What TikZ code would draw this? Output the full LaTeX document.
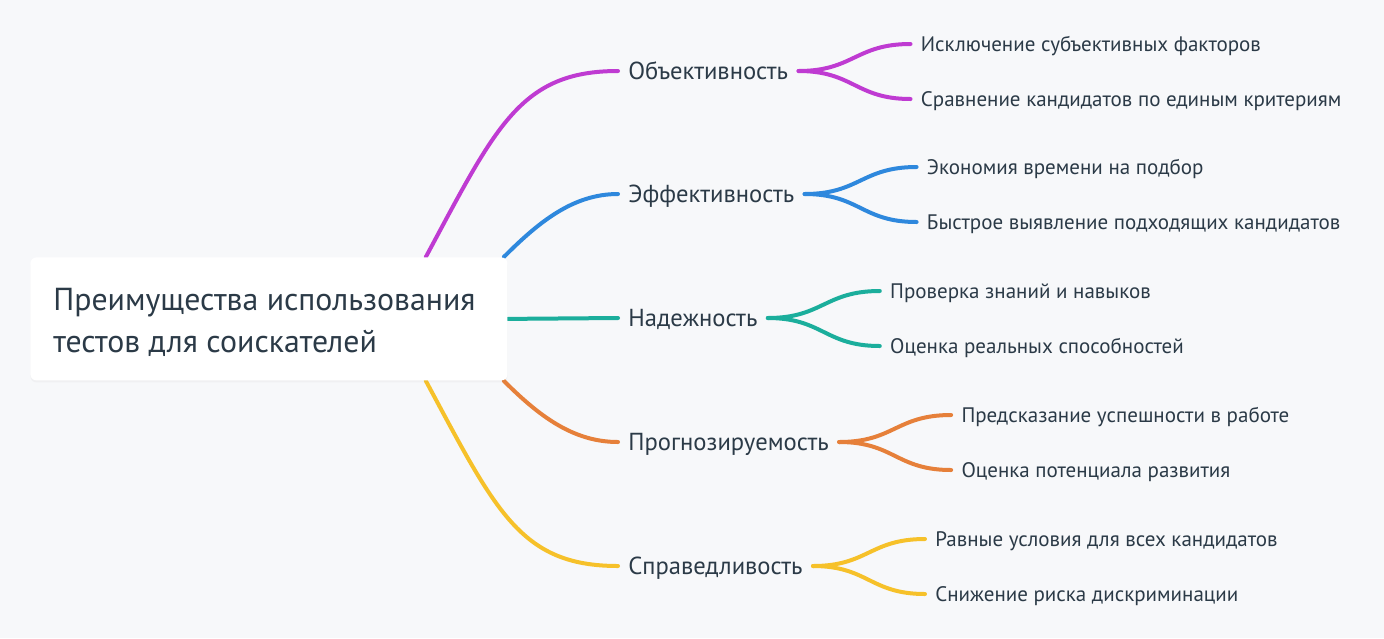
\documentclass[tikz,border=0pt]{standalone}
\usepackage{fontspec}
\setmainfont{PT Sans}
\usetikzlibrary{shadows, backgrounds}

\definecolor{bg}{HTML}{F7F8FA}
\definecolor{ink}{HTML}{2B3A47}
\definecolor{cobj}{HTML}{BF3BD2}
\definecolor{ceff}{HTML}{2E88DD}
\definecolor{crel}{HTML}{1BAE9C}
\definecolor{cpro}{HTML}{E6803A}
\definecolor{cfair}{HTML}{F6C12A}

\begin{document}
\begin{tikzpicture}[
    x=0.5pt, y=-0.5pt,
    root/.style={
        rectangle,
        rounded corners=3pt,
        fill=white,
        anchor=north west,
        minimum width=238.5pt,
        minimum height=61.5pt,
        drop shadow={opacity=0.06, shadow xshift=0pt, shadow yshift=-1pt}
    },
    title/.style={
        anchor=west,
        inner sep=0pt,
        align=left,
        text=ink,
        font=\fontsize{15.9}{21}\selectfont
    },
    topic/.style={
        anchor=west,
        inner xsep=5pt,
        inner ysep=0pt,
        text height=8.6pt,
        text depth=0pt,
        text=ink,
        font=\fontsize{12.3}{14}\selectfont
    },
    leaf/.style={
        anchor=west,
        inner xsep=5pt,
        inner ysep=0pt,
        text height=7.3pt,
        text depth=0pt,
        text=ink,
        font=\fontsize{10.5}{12}\selectfont
    },
    branch/.style={line width=2pt, line cap=round}
]

\node[root] (root) at (30,257) {};
\node[title] (title) at (53,322) {Преимущества использования\\тестов для соискателей};

\node[topic] (obj) at (618,71) {Объективность};
\node[topic] (eff) at (618,194) {Эффективность};
\node[topic] (rel) at (618,318) {Надежность};
\node[topic] (pro) at (618,442) {Прогнозируемость};
\node[topic] (fair) at (618,566) {Справедливость};

\begin{scope}[on background layer]
\fill[bg] (0,0) rectangle (1384,638);
\draw[branch, cobj] ([xshift=-41pt]root.north east) .. controls +(70,-130) and +(-98,0) .. (obj.west);
\draw[branch, ceff] ([xshift=-2pt]root.north east) .. controls +(35,-35) and +(-45,0) .. (eff.west);
\draw[branch, crel] (root.east) -- (rel.west);
\draw[branch, cpro] ([xshift=-2pt]root.south east) .. controls +(35,35) and +(-45,0) .. (pro.west);
\draw[branch, cfair] ([xshift=-41pt]root.south east) .. controls +(70,130) and +(-98,0) .. (fair.west);
\end{scope}

\node[leaf] (obj1) at ([xshift=56pt, yshift=13.5pt]obj.east) {Исключение субъективных факторов};
\node[leaf] (obj2) at ([xshift=56pt, yshift=-14pt]obj.east) {Сравнение кандидатов по единым критериям};
\node[leaf] (eff1) at ([xshift=56pt, yshift=13.5pt]eff.east) {Экономия времени на подбор};
\node[leaf] (eff2) at ([xshift=56pt, yshift=-14pt]eff.east) {Быстрое выявление подходящих кандидатов};
\node[leaf] (rel1) at ([xshift=56pt, yshift=13.5pt]rel.east) {Проверка знаний и навыков};
\node[leaf] (rel2) at ([xshift=56pt, yshift=-14pt]rel.east) {Оценка реальных способностей};
\node[leaf] (pro1) at ([xshift=56pt, yshift=13.5pt]pro.east) {Предсказание успешности в работе};
\node[leaf] (pro2) at ([xshift=56pt, yshift=-14pt]pro.east) {Оценка потенциала развития};
\node[leaf] (fair1) at ([xshift=56pt, yshift=13.5pt]fair.east) {Равные условия для всех кандидатов};
\node[leaf] (fair2) at ([xshift=56pt, yshift=-14pt]fair.east) {Снижение риска дискриминации};

\foreach \t/\c in {obj/cobj, eff/ceff, rel/crel, pro/cpro, fair/cfair} {
    \draw[branch, \c] (\t.east) .. controls +(55,0) and +(-55,0) .. (\t1.west);
    \draw[branch, \c] (\t.east) .. controls +(55,0) and +(-55,0) .. (\t2.west);
}

\end{tikzpicture}
\end{document}
